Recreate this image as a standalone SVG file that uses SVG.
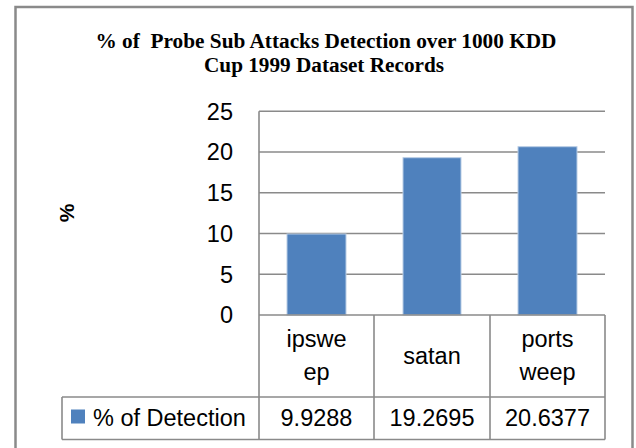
<svg xmlns="http://www.w3.org/2000/svg" width="636" height="448" viewBox="0 0 636 448">
<style>
.t{font-family:"Liberation Serif","Times New Roman",serif;font-weight:bold;font-size:20.5px;fill:#000;white-space:pre}
.l{font-family:"Liberation Sans",Arial,sans-serif;font-size:23.5px;fill:#000}
.g{stroke:#8a8a8a;stroke-width:1.6;fill:none}
.bar{fill:#4F81BD;stroke:#B9CDE5;stroke-width:1}
</style>
<rect x="0" y="0" width="636" height="448" fill="#fff"/>
<rect id="frame" x="15.5" y="7" width="617" height="450" fill="#fff" stroke="#8a8a8a" stroke-width="2.5"/>
<g id="title">
<text class="t" x="326" y="47.5" text-anchor="middle" textLength="461" lengthAdjust="spacingAndGlyphs">% of  Probe Sub Attacks Detection over 1000 KDD</text>
<text class="t" x="324" y="71.5" text-anchor="middle" textLength="240" lengthAdjust="spacingAndGlyphs">Cup 1999 Dataset Records</text>
</g>
<g id="yaxis-title">
<text x="0" y="0" transform="translate(74,213) rotate(-90)" text-anchor="middle" style="font-family:'Liberation Sans',Arial,sans-serif;font-weight:bold;font-size:21px">%</text>
</g>
<g id="gridlines" class="g">
<line x1="259" y1="111.25" x2="605" y2="111.25"/>
<line x1="259" y1="152" x2="605" y2="152"/>
<line x1="259" y1="192.75" x2="605" y2="192.75"/>
<line x1="259" y1="233.5" x2="605" y2="233.5"/>
<line x1="259" y1="274.25" x2="605" y2="274.25"/>
</g>
<g id="y-labels" class="l" text-anchor="end">
<text x="233" y="119.5">25</text>
<text x="233" y="160">20</text>
<text x="233" y="201">15</text>
<text x="233" y="241.5">10</text>
<text x="233" y="282.5">5</text>
<text x="233" y="323">0</text>
</g>
<g id="bars">
<rect id="bar-ipsweep" class="bar" x="287" y="234" width="59" height="81"/>
<rect id="bar-satan" class="bar" x="403" y="157.7" width="58" height="157.3"/>
<rect id="bar-portsweep" class="bar" x="518" y="146.7" width="59" height="168.3"/>
</g>
<g id="table" class="g">
<line x1="259" y1="315" x2="605" y2="315"/>
<line x1="62" y1="397" x2="605" y2="397"/>
<line x1="62" y1="439.5" x2="605" y2="439.5"/>
<line x1="259" y1="111.25" x2="259" y2="439.5"/>
<line x1="374" y1="315" x2="374" y2="439.5"/>
<line x1="490" y1="315" x2="490" y2="439.5"/>
<line x1="605" y1="315" x2="605" y2="439.5"/>
<line x1="62" y1="397" x2="62" y2="439.5"/>
</g>
<g id="categories" class="l" text-anchor="middle">
<text x="316.5" y="346.5">ipswe</text>
<text x="316.5" y="379.5">ep</text>
<text x="432" y="363.5">satan</text>
<text x="547.5" y="346.5">ports</text>
<text x="547.5" y="379.5">weep</text>
</g>
<g id="legend">
<rect x="71" y="409.5" width="14" height="14" fill="#4F81BD"/>
<text class="l" x="93" y="425.5">% of Detection</text>
</g>
<g id="values" class="l" text-anchor="middle">
<text x="316.5" y="426">9.9288</text>
<text x="432" y="426">19.2695</text>
<text x="547.5" y="426">20.6377</text>
</g>
</svg>
